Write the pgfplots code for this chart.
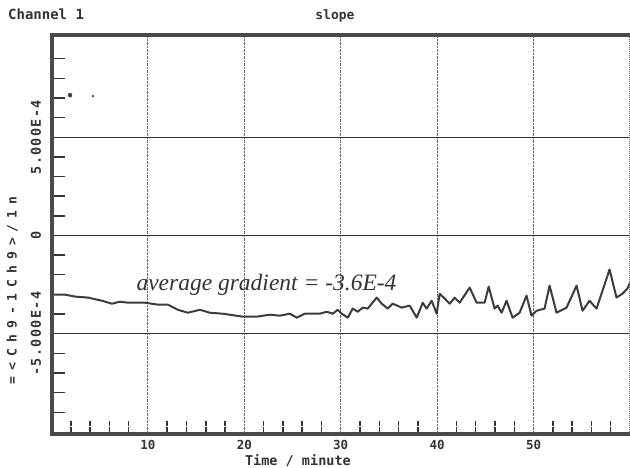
\documentclass[border=0pt]{standalone}
\usepackage{pgfplots}
\pgfplotsset{compat=1.18}
\usepackage{fontspec}
\setmainfont{Liberation Serif}
\newfontfamily\pix{DejaVu Sans Mono Bold}
\newfontfamily\pixtick{DejaVu Sans Mono Bold}[LetterSpace=10]
\newfontfamily\pixwide{DejaVu Sans Mono Bold}[LetterSpace=46]
\definecolor{ink}{HTML}{333333}
\definecolor{frame}{HTML}{4A4A4A}
\definecolor{curve}{HTML}{3C3C3C}
\begin{document}
\begin{tikzpicture}[x=1pt,y=1pt]
\path[use as bounding box] (0,0) rectangle (630,468);
\begin{axis}[
  at={(51.5pt,34pt)}, anchor=south west,
  scale only axis, width=578.5pt, height=399pt,
  xmin=0, xmax=60, ymin=-10.1e-4, ymax=10.2e-4,
  axis line style={draw=none},
  scaled y ticks=false, scaled x ticks=false,
  xtick={10,20,30,40,50}, xticklabels={10,20,30,40,50},
  minor xtick={2,4,6,8,12,14,16,18,22,24,26,28,32,34,36,38,42,44,46,48,52,54,56,58},
  ytick={-5e-4,0,5e-4}, yticklabels={-5.000E-4,0,5.000E-4},
  minor ytick={-9e-4,-8e-4,-7e-4,-6e-4,-4e-4,-3e-4,-2e-4,-1e-4,1e-4,2e-4,3e-4,4e-4,6e-4,7e-4,8e-4,9e-4},
  xtick pos=bottom, ytick pos=left, tick align=inside,
  major tick length=0pt, minor tick length=14pt,
  minor x tick style={densely dotted, line width=1.5pt, ink},
  minor y tick style={line width=1.4pt, ink},
  xmajorgrids, ymajorgrids,
  major x grid style={densely dotted, line width=0.9pt, black!60},
  major y grid style={line width=1.4pt, ink},
  xticklabel style={font=\pix\fontsize{12.5}{12.5}\selectfont, text=ink, yshift=-3pt},
  yticklabel style={font=\pixtick\fontsize{13.5}{13.5}\selectfont, text=ink, xshift=-7pt, rotate=90, anchor=south},
  clip=false,
]
\addplot[curve, line width=2pt, line join=round] coordinates {
(0,-3.01e-4) (1.40,-3.01e-4) (2.44,-3.11e-4) (3.78,-3.16e-4) (5.23,-3.32e-4)
(6.27,-3.47e-4) (7.10,-3.37e-4) (7.93,-3.42e-4) (9.69,-3.42e-4) (11.04,-3.52e-4)
(12.07,-3.52e-4) (13.11,-3.78e-4) (14.15,-3.93e-4) (15.39,-3.78e-4) (16.42,-3.93e-4)
(17.77,-3.98e-4) (19.84,-4.13e-4) (21.30,-4.13e-4) (22.64,-4.03e-4) (23.68,-4.08e-4)
(24.72,-3.98e-4) (25.44,-4.18e-4) (26.27,-3.98e-4) (27.10,-3.98e-4) (27.82,-3.98e-4)
(28.55,-3.88e-4) (29.17,-3.98e-4) (29.69,-3.78e-4) (30.10,-3.98e-4) (30.73,-4.18e-4)
(31.24,-3.72e-4) (31.76,-3.88e-4) (32.28,-3.67e-4) (32.80,-3.72e-4) (33.73,-3.16e-4)
(34.25,-3.47e-4) (34.87,-3.72e-4) (35.39,-3.47e-4) (36.32,-3.67e-4) (37.15,-3.57e-4)
(37.88,-4.18e-4) (38.50,-3.42e-4) (38.91,-3.72e-4) (39.43,-3.32e-4) (39.95,-3.98e-4)
(40.26,-2.96e-4) (40.78,-3.21e-4) (41.30,-3.47e-4) (41.81,-3.16e-4) (42.33,-3.42e-4)
(43.37,-2.65e-4) (44.09,-3.42e-4) (44.92,-3.42e-4) (45.34,-2.60e-4) (45.96,-3.72e-4)
(46.27,-3.57e-4) (46.68,-3.93e-4) (47.20,-3.32e-4) (47.82,-4.18e-4) (48.55,-3.93e-4)
(49.27,-3.06e-4) (49.79,-4.08e-4) (50.31,-3.83e-4) (51.14,-3.72e-4) (51.66,-2.55e-4)
(52.38,-3.93e-4) (53.42,-3.67e-4) (54.46,-2.55e-4) (55.08,-3.83e-4) (55.80,-3.32e-4)
(56.53,-3.72e-4) (57.88,-1.73e-4) (58.60,-3.16e-4) (59.22,-2.96e-4) (59.74,-2.70e-4)
(60,-2.40e-4)
};
\addplot[only marks, mark=*, mark size=2pt, curve] coordinates {(1.92,7.14e-4)};
\addplot[only marks, mark=*, mark size=1pt, curve] coordinates {(4.30,7.09e-4)};
% frame
\draw[frame, line width=4pt] (rel axis cs:1,1) -- (rel axis cs:0,1) -- (rel axis cs:0,0) -- (rel axis cs:1,0);
\draw[black!60, densely dotted, line width=1pt] (rel axis cs:1,0) -- (rel axis cs:1,1);
% texts
\node[font=\itshape\fontsize{23.5}{23.5}\selectfont, text=ink, anchor=base] at (axis cs:22.3,-2.78e-4) {average gradient = -3.6E-4};
\node[font=\pix\fontsize{14}{14}\selectfont, text=ink, anchor=base west] at (rel axis cs:-0.081,1.038) {Channel 1};
\node[font=\pix\fontsize{13}{13}\selectfont, text=ink, anchor=base] at (rel axis cs:0.49,1.038) {slope};
\node[font=\pix\fontsize{13.5}{13.5}\selectfont, text=ink] at (rel axis cs:0.426,-0.068) {Time / minute};
\node[font=\pixwide\fontsize{13}{13}\selectfont, text=ink, rotate=90] at (rel axis cs:-0.068,0.36) {=<Ch9-1Ch9>/1n};
\end{axis}
\end{tikzpicture}
\end{document}
